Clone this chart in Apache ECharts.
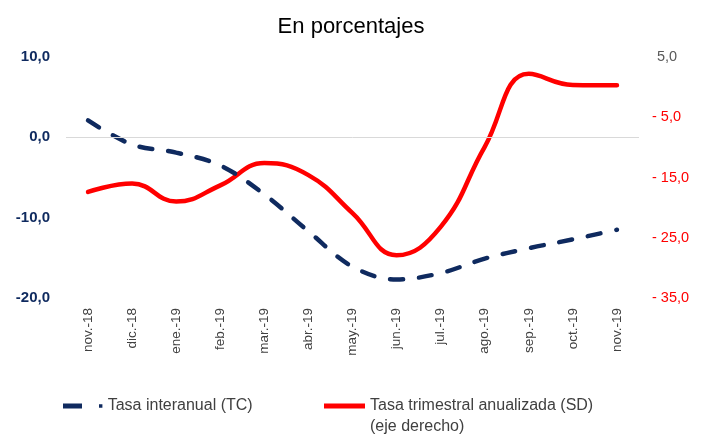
<!DOCTYPE html>
<html>
<head>
<meta charset="utf-8">
<script src="https://cdn.jsdelivr.net/npm/echarts@6/dist/echarts.min.js"></script>
<style>
  html, body { margin: 0; padding: 0; background: #fff; }
  #chart { width: 702px; height: 434px; }
</style>
</head>
<body>
<div id="chart"></div>
<script>
// meses
const categories = ['nov.-18', 'dic.-18', 'ene.-19', 'feb.-19', 'mar.-19', 'abr.-19', 'may.-19',
  'jun.-19', 'jul.-19', 'ago.-19', 'sep.-19', 'oct.-19', 'nov.-19']
// tasa interanual (TC), eje izquierdo
const tasaInteranual = [2.1, -0.9, -1.9, -3.5, -7.1, -11.7, -16.1, -17.7, -16.9, -15.1, -13.8, -12.7, -11.5]
// tasa trimestral anualizada (SD), eje derecho
const tasaTrimestral = [-17.4, -16.0, -19.0, -16.3, -12.6, -14.6, -20.9, -27.9, -23.2, -9.9, 2.2, 0.35, 0.3]

const navy = '#0f2a5f'
const red = '#ff0000'
const font = 'Liberation Sans'

const fmt = v => Math.abs(v).toFixed(1).replace('.', ',')

const chart = echarts.init(document.getElementById('chart'))
chart.setOption({
  animation: false,
  title: {
    text: 'En porcentajes',
    left: 'center',
    top: 11,
    textStyle: {
      fontFamily: font,
      fontSize: 22,
      fontWeight: 'normal',
      color: '#000'
    }
  },
  grid: {
    left: 66,
    right: 63,
    top: 57,
    bottom: 136
  },
  legend: [
    {
      left: 63,
      top: 398,
      padding: 0,
      itemWidth: 40,
      itemHeight: 5,
      data: [{
        name: 'Tasa interanual (TC)',
        icon: 'path://M0,0h19v5h-19z M36,0.8h3.4v3.4h-3.4z'
      }],
      textStyle: { fontFamily: font, fontSize: 16, color: '#404040' }
    },
    {
      left: 324,
      top: 398,
      padding: 0,
      itemWidth: 41,
      itemHeight: 5,
      data: [{ name: 'Tasa trimestral anualizada (SD)', icon: 'rect' }],
      textStyle: { fontFamily: font, fontSize: 16, color: '#404040' }
    }
  ],
  graphic: [
    {
      type: 'text',
      left: 370,
      top: 419,
      style: {
        text: '(eje derecho)',
        font: '16px "Liberation Sans"',
        fill: '#404040'
      }
    }
  ],
  xAxis: {
    type: 'category',
    data: categories,
    boundaryGap: true,
    axisLine: { show: false },
    axisTick: { show: false },
    axisLabel: {
      rotate: 90,
      margin: 10,
      fontFamily: font,
      fontSize: 13.5,
      color: '#404040'
    }
  },
  yAxis: [
    {
      type: 'value',
      min: -20,
      max: 10,
      interval: 10,
      splitLine: { show: false },
      axisLine: { show: false },
      axisTick: { show: false },
      axisLabel: {
        margin: 16,
        fontFamily: font,
        fontSize: 15,
        fontWeight: 'bold',
        color: navy,
        formatter: v => (v < 0 ? '-' : '') + fmt(v)
      }
    },
    {
      type: 'value',
      min: -35,
      max: 5,
      interval: 10,
      position: 'right',
      splitLine: { show: false },
      axisLine: { show: false },
      axisTick: { show: false },
      axisLabel: {
        margin: 13,
        fontFamily: font,
        fontSize: 14,
        formatter: v => (v < 0 ? '{r|- ' + fmt(v) + '}' : '{g|' + fmt(v) + '}'),
        rich: {
          r: { color: red, fontFamily: font, fontSize: 14.5 },
          g: { color: '#595959', fontFamily: font, fontSize: 14.5, padding: [0, 0, 0, 5] }
        }
      }
    }
  ],
  series: [
    {
      name: 'Tasa interanual (TC)',
      type: 'line',
      yAxisIndex: 0,
      data: tasaInteranual,
      smooth: 0.35,
      symbol: 'none',
      z: 3,
      lineStyle: {
        color: navy,
        width: 4.5,
        type: [13, 16],
        cap: 'round'
      },
      itemStyle: { color: navy },
      markLine: {
        silent: true,
        symbol: ['none', 'none'],
        label: { show: false },
        lineStyle: { color: '#d9d9d9', width: 1, type: 'solid' },
        data: [{ yAxis: 0 }]
      }
    },
    {
      name: 'Tasa trimestral anualizada (SD)',
      type: 'line',
      yAxisIndex: 1,
      data: tasaTrimestral,
      smooth: 0.45,
      symbol: 'none',
      z: 2,
      lineStyle: {
        color: red,
        width: 4.5,
        cap: 'round'
      },
      itemStyle: { color: red }
    }
  ]
})
</script>
</body>
</html>
